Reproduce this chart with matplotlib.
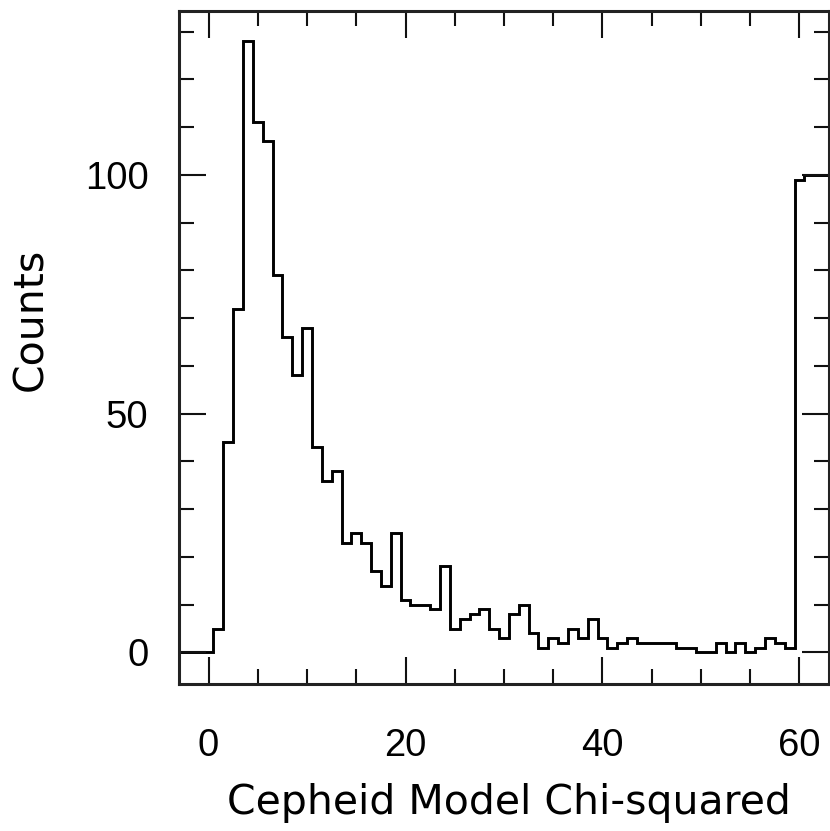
import numpy as np
import matplotlib
matplotlib.use("Agg")
import matplotlib.pyplot as plt
from matplotlib.ticker import MultipleLocator

# 每个整数 chi^2 一个 bin，最后两个是 >=60 的溢出
chi_centers = np.arange(0, 62)
counts = [0, 5, 44, 72, 128, 111, 107, 79, 66, 58,
          68, 43, 36, 38, 23, 25, 23, 17, 14, 25,
          11, 10, 10, 9, 18, 5, 7, 8, 9, 5,
          3, 8, 10, 4, 1, 3, 2, 5, 3, 7,
          3, 1, 2, 3, 2, 2, 2, 2, 1, 1,
          0, 0, 2, 0, 2, 0, 1, 3, 2, 1,
          99, 100]

x_ticks = [0, 20, 40, 60]
y_ticks = [0, 50, 100]
x_label = "Cepheid Model Chi-squared"
y_label = "Counts"

fig = plt.figure(figsize=(8.30, 8.31), dpi=100)
ax = fig.add_axes([179 / 830, 1 - 684 / 831, 650 / 830, 673 / 831])

# bin 边在半整数上；最左边一格延伸到坐标轴外
edges = np.concatenate([[-4.0], chi_centers[1:] - 0.5, [64.0]])
ax.stairs(counts, edges, color="black", linewidth=2.1, baseline=None)

ax.set_xlim(-3, 63)
ax.set_ylim(-6.6, 134.3)

ax.set_xticks(x_ticks)
ax.set_yticks(y_ticks)
ax.xaxis.set_minor_locator(MultipleLocator(5))
ax.yaxis.set_minor_locator(MultipleLocator(10))

ax.tick_params(which="both", direction="in", top=True, right=True,
               width=1.5, color="#111111")
ax.tick_params(which="major", length=19.5)
ax.tick_params(which="minor", length=10.8)
ax.tick_params(axis="x", which="major", pad=32)
ax.tick_params(axis="y", which="major", pad=22)

for lab in ax.get_xticklabels() + ax.get_yticklabels():
    lab.set_fontfamily("Liberation Sans")
    lab.set_fontsize(27.5)

for sp in ax.spines.values():
    sp.set_linewidth(2.2)
    sp.set_color("#222222")

ax.set_xlabel(x_label, fontsize=29.5, family="DejaVu Sans")
ax.set_ylabel(y_label, fontsize=29.5, family="DejaVu Sans")
ax.xaxis.set_label_coords(0.508, -0.147)
ax.yaxis.set_label_coords(-0.196, 0.542)

fig.savefig("out.png", dpi=100)
